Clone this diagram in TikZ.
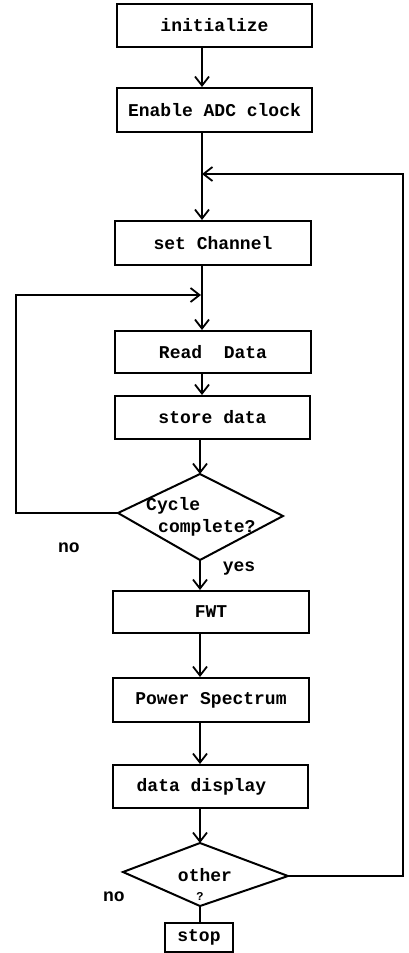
\documentclass[tikz,border=0pt]{standalone}
\usepackage{fontspec}
\setmonofont{Liberation Mono}
\usetikzlibrary{arrows.meta}
\begin{document}
\begin{tikzpicture}[x=1pt,y=-1pt,
  box/.style={draw, line width=2pt, rectangle, inner sep=0pt, minimum width=195pt,
    font=\ttfamily\bfseries\fontsize{18}{20}\selectfont},
  txt/.style={inner sep=0pt, font=\ttfamily\bfseries\fontsize{18}{20}\selectfont},
  small/.style={inner sep=0pt, font=\ttfamily\bfseries\fontsize{12}{14}\selectfont},
  arr/.style={line width=1.8pt, -{Straight Barb[length=9pt,width=14pt,line width=1.8pt]}},
  ln/.style={line width=1.8pt},
  shp/.style={line width=2pt, line join=miter}]
\useasboundingbox (0,0) rectangle (409,953);
% axes for the main flow line
\coordinate (ax1) at (202,0);
\coordinate (ax2) at (200,0);
% boxes
\node[box, minimum height=43pt] (init) at (214.5,25.5) {initialize};
\node[box, minimum height=44pt] (enable) at (214.5,110) {Enable ADC clock};
\node[box, minimum width=196pt, minimum height=44pt] (setch) at (213,243) {set Channel};
\node[box, minimum width=196pt, minimum height=42pt] (read) at (213,352) {Read\ \ Data};
\node[box, minimum height=43pt] (store) at (212.5,417.5) {store data};
\node[box, minimum width=196pt, minimum height=42pt] (fwt) at (211,612) {FWT};
\node[box, minimum width=196pt, minimum height=44pt] (power) at (211,700) {Power Spectrum};
\node[box, minimum height=43pt] (display) at (210.5,786.5) {\hspace*{-18pt}data display};
\node[box, minimum width=68pt, minimum height=29pt] (stop) at (199,937.5) {stop};
% decision 1
\coordinate (c1t) at (200,474);
\coordinate (c1r) at (283,516);
\coordinate (c1b) at (200,560);
\coordinate (c1l) at (118,513);
\draw[shp] (c1t) -- (c1r) -- (c1b) -- (c1l) -- cycle;
\node[txt, anchor=west] (cyc) at (146,506) {Cycle};
\node[txt, anchor=west] (cmp) at (158,528) {complete?};
% decision 2
\coordinate (c2t) at (200,843);
\coordinate (c2r) at (288,876);
\coordinate (c2b) at (200,906);
\coordinate (c2l) at (123,872);
\draw[shp] (c2t) -- (c2r) -- (c2b) -- (c2l) -- cycle;
\node[txt] (oth) at (205,875) {other};
\node[small] (q) at (200,896) {?};
% labels
\node[txt] (no1) at (69,548) {no};
\node[txt] (yes) at (239,569) {yes};
\node[txt] (no2) at (114,897) {no};
% loop coordinates
\coordinate (rbot) at (403,876);
\coordinate (rtop) at (403,174);
\coordinate (j1) at (202,174);
\coordinate (lbot) at (16,513);
\coordinate (ltop) at (16,295);
\coordinate (j2) at (201,295);
% main flow
\draw[arr] (init.south -| ax1) -- (enable.north -| ax1);
\draw[arr] (enable.south -| ax1) -- (setch.north -| ax1);
\draw[arr] (setch.south -| ax1) -- (read.north -| ax1);
\draw[arr] (read.south -| ax1) -- (store.north -| ax1);
\draw[arr] (store.south -| ax2) -- (c1t);
\draw[arr] (c1b) -- (fwt.north -| ax2);
\draw[arr] (fwt.south -| ax2) -- (power.north -| ax2);
\draw[arr] (power.south -| ax2) -- (display.north -| ax2);
\draw[arr] (display.south -| ax2) -- (c2t);
\draw[ln] (c2b) -- (stop.north -| ax2);
% loops
\draw[arr] (c2r) -- (rbot) -- (rtop) -- (j1);
\draw[arr] (c1l) -- (lbot) -- (ltop) -- (j2);
\end{tikzpicture}
\end{document}
